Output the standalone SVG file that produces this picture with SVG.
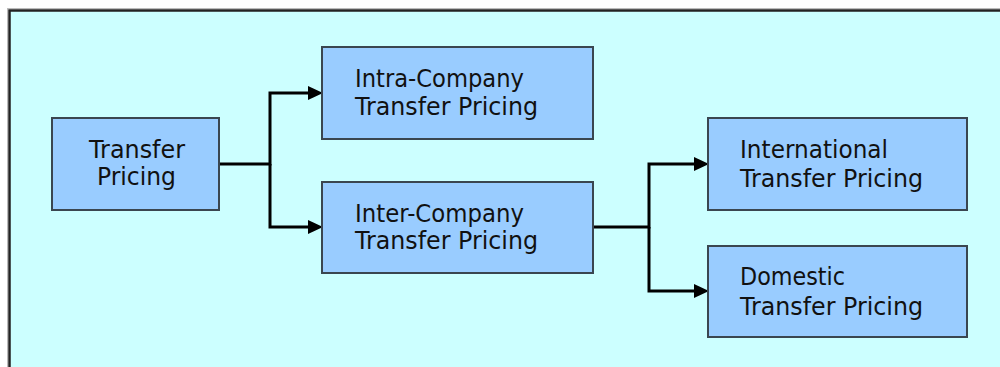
<svg xmlns="http://www.w3.org/2000/svg" width="1000" height="367" viewBox="0 0 1000 367">
  <style>
    .box { fill: #99CCFF; stroke: #3a4650; stroke-width: 2; }
    .lbl { font-family: "DejaVu Sans", "Liberation Sans", sans-serif; font-size: 24px; fill: #111111; }
    .conn { fill: none; stroke: #000000; stroke-width: 3; }
  </style>
  <defs>
    <marker id="arr" markerUnits="userSpaceOnUse" markerWidth="15" markerHeight="15" refX="7" refY="7" orient="auto">
      <path d="M0,0 L15,7 L0,14 z" fill="#000000"/>
    </marker>
  </defs>
  <rect x="0" y="0" width="1000" height="367" fill="#FFFFFF"/>
  <rect x="7.5" y="8.5" width="1000" height="400" fill="none" stroke="#bbbbbb" stroke-width="1"/>
  <rect x="9.5" y="10.5" width="1000" height="400" fill="#CCFFFF" stroke="#222222" stroke-width="2.5"/>

  <g id="connectors">
    <path class="conn" d="M219,164 H270 V93 H315" marker-end="url(#arr)"/>
    <path class="conn" d="M270,164 V227 H315" marker-end="url(#arr)"/>
    <path class="conn" d="M593,227 H649 V164 H701" marker-end="url(#arr)"/>
    <path class="conn" d="M649,227 V291 H701" marker-end="url(#arr)"/>
  </g>

  <g id="transfer-pricing">
    <rect class="box" x="52" y="118" width="167" height="92"/>
    <text class="lbl" x="89" y="158" textLength="96" lengthAdjust="spacingAndGlyphs">Transfer</text>
    <text class="lbl" x="97" y="185" textLength="79" lengthAdjust="spacingAndGlyphs">Pricing</text>
  </g>

  <g id="intra-company">
    <rect class="box" x="322" y="47" width="271" height="92"/>
    <text class="lbl" x="355" y="87" textLength="169" lengthAdjust="spacingAndGlyphs">Intra-Company</text>
    <text class="lbl" x="355" y="115" textLength="183" lengthAdjust="spacingAndGlyphs">Transfer Pricing</text>
  </g>

  <g id="inter-company">
    <rect class="box" x="322" y="182" width="271" height="91"/>
    <text class="lbl" x="355" y="222" textLength="169" lengthAdjust="spacingAndGlyphs">Inter-Company</text>
    <text class="lbl" x="355" y="249" textLength="183" lengthAdjust="spacingAndGlyphs">Transfer Pricing</text>
  </g>

  <g id="international">
    <rect class="box" x="708" y="118" width="259" height="92"/>
    <text class="lbl" x="740" y="158" textLength="148" lengthAdjust="spacingAndGlyphs">International</text>
    <text class="lbl" x="740" y="187" textLength="183" lengthAdjust="spacingAndGlyphs">Transfer Pricing</text>
  </g>

  <g id="domestic">
    <rect class="box" x="708" y="246" width="259" height="91"/>
    <text class="lbl" x="740" y="285" textLength="105" lengthAdjust="spacingAndGlyphs">Domestic</text>
    <text class="lbl" x="740" y="315" textLength="183" lengthAdjust="spacingAndGlyphs">Transfer Pricing</text>
  </g>
</svg>
